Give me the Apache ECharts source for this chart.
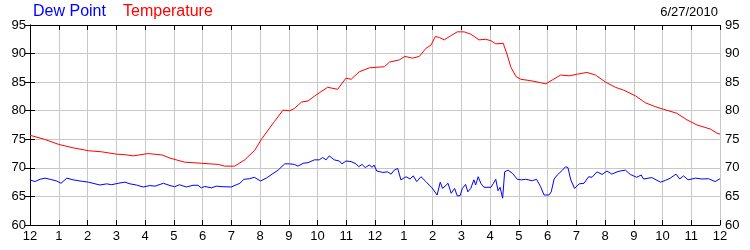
<!DOCTYPE html>
<html>
<head>
<meta charset="utf-8">
<script src="https://cdn.jsdelivr.net/npm/echarts@6/dist/echarts.min.js"></script>
<style>html,body{margin:0;padding:0;background:#fff;}#c{width:750px;height:250px;}</style>
</head>
<body>
<div id="c"></div>
<script>
var hourLabels = ['12','1','2','3','4','5','6','7','8','9','10','11','12','1','2','3','4','5','6','7','8','9','10','11','12'];
var yTicks = [60, 65, 70, 75, 80, 85, 90, 95];
var dateLabel = '6/27/2010';
var seriesNames = ['Dew Point', 'Temperature'];

var tempTimes = [0,0.5,1,1.5,2.03,2.5,3.01,3.3,3.6,4.1,4.6,4.87,5.38,5.97,6.55,6.77,7.12,7.47,7.82,8.05,8.5,8.8,9.03,9.2,9.44,9.67,9.95,10.35,10.7,10.99,11.17,11.45,11.8,12.33,12.5,12.85,13.04,13.3,13.54,13.77,13.95,14.1,14.24,14.41,14.63,14.86,15.1,15.33,15.62,15.85,16.03,16.2,16.46,16.6,16.72,16.9,17.07,17.42,17.76,17.94,18.17,18.46,18.75,19.04,19.37,19.67,20.02,20.36,20.65,21.06,21.4,21.75,22.04,22.5,22.85,23.2,23.66,23.9,24];
var tempValues = [75.7,75.0,74.1,73.5,73.0,72.8,72.4,72.3,72.1,72.5,72.25,71.7,71.0,70.8,70.6,70.3,70.3,71.4,73.1,75.0,78.1,80.1,80.0,80.4,81.5,81.7,82.75,84.1,83.75,85.7,85.5,86.8,87.5,87.7,88.5,88.9,89.5,89.2,89.5,90.9,91.5,93.0,92.8,92.4,93.1,93.8,93.8,93.4,92.4,92.5,92.25,91.7,91.8,89.75,87.7,86.0,85.5,85.25,84.9,84.7,85.4,86.25,86.1,86.4,86.7,86.25,85.0,84.1,83.6,82.6,81.4,80.7,80.25,79.55,78.4,77.5,76.8,76.05,75.9];

var dewTimes = [0,0.17,0.35,0.52,0.7,0.93,1.08,1.28,1.5,1.74,2.03,2.43,2.67,2.84,3.07,3.3,3.48,3.7,3.94,4.17,4.35,4.64,4.87,5.03,5.2,5.44,5.67,5.84,5.96,6.08,6.31,6.48,6.71,7.0,7.3,7.44,7.64,7.8,8.02,8.22,8.45,8.63,8.86,9.03,9.2,9.32,9.5,9.67,9.72,9.89,10.06,10.18,10.3,10.41,10.58,10.76,10.85,10.99,11.17,11.34,11.43,11.55,11.66,11.8,11.9,11.97,12.06,12.27,12.44,12.56,12.67,12.79,12.9,13.08,13.22,13.33,13.45,13.6,13.77,13.98,14.16,14.27,14.35,14.4,14.54,14.65,14.77,14.86,14.96,15.04,15.15,15.23,15.33,15.44,15.5,15.59,15.68,15.79,16.03,16.12,16.2,16.28,16.35,16.44,16.51,16.63,16.78,16.95,17.09,17.24,17.47,17.62,17.76,17.88,18.05,18.13,18.23,18.34,18.52,18.63,18.71,18.81,18.94,19.1,19.27,19.43,19.55,19.72,19.9,20.07,20.24,20.42,20.53,20.71,20.88,21.1,21.26,21.34,21.63,21.93,22.1,22.27,22.47,22.6,22.73,22.89,23.15,23.37,23.6,23.83,24];
var dewValues = [67.9,67.6,68.0,68.2,68.0,67.7,67.3,68.2,67.9,67.7,67.5,67.0,67.2,67.05,67.3,67.5,67.2,67.0,66.65,66.9,66.8,67.3,66.9,66.7,67.05,66.65,66.95,66.95,66.5,66.75,66.5,66.8,66.7,66.65,67.3,68.0,68.1,68.35,67.7,68.2,69.0,69.6,70.7,70.7,70.6,70.3,70.8,70.9,70.8,71.4,71.4,71.8,71.4,72.1,71.4,71.2,70.7,71.2,71.1,70.7,70.2,70.6,70.05,70.5,70.1,70.5,69.45,69.2,69.3,68.9,69.6,69.9,67.9,68.45,68.05,68.6,67.6,68.45,67.6,66.5,65.25,67.5,66.4,66.4,67.3,65.55,66.4,65.1,65.15,66.4,67.1,65.8,66.4,67.9,67.0,68.45,67.3,66.6,66.6,67.3,68.0,66.0,66.6,64.7,69.3,69.6,69.05,68.0,67.9,68.0,67.75,68.0,66.7,65.25,65.25,65.8,68.05,68.75,69.6,70.2,70.05,67.9,66.4,67.2,67.3,68.45,68.35,69.3,68.85,69.45,68.9,69.3,69.45,69.6,68.85,68.35,68.75,68.05,68.3,67.5,67.8,68.2,68.9,68.05,68.6,67.9,68.2,68.05,68.1,67.6,68.1];

function pairs(t, v) { return t.map(function (x, i) { return [x, v[i]]; }); }

var FONT = 'Liberation Sans, Arial, sans-serif';
var chart = echarts.init(document.getElementById('c'), null, { renderer: 'canvas' });

function yAxisCfg(pos) {
  return {
    type: 'value', position: pos, min: yTicks[0], max: yTicks[yTicks.length - 1], interval: 5,
    axisLine: { show: true, lineStyle: { color: '#000', width: 1 } },
    axisTick: { show: true, inside: true, length: 5, lineStyle: { color: '#000' } },
    axisLabel: { show: true, color: '#000', fontSize: 13, fontFamily: FONT, margin: pos === 'left' ? 4 : 5 },
    splitLine: { show: pos === 'left', lineStyle: { color: '#c8c8c8', width: 1 } }
  };
}

chart.setOption({
  animation: false,
  backgroundColor: '#fff',
  grid: { left: 30, right: 30, top: 25, bottom: 25, containLabel: false },
  title: [
    {
      left: 33, top: 4, padding: 0,
      text: seriesNames[0],
      textStyle: { color: '#0000ff', fontSize: 16, fontWeight: 'normal', fontFamily: FONT }
    },
    {
      left: 123, top: 4, padding: 0,
      text: seriesNames[1],
      textStyle: { color: '#ff0000', fontSize: 16, fontWeight: 'normal', fontFamily: FONT }
    },
    {
      right: 32, top: 6, padding: 0,
      text: dateLabel,
      textStyle: { color: '#000', fontSize: 13, fontWeight: 'normal', fontFamily: FONT }
    }
  ],
  xAxis: [
    {
      type: 'value', position: 'bottom', min: 0, max: 24, interval: 1,
      axisLine: { show: true, onZero: false, lineStyle: { color: '#000', width: 1 } },
      axisTick: { show: true, inside: true, length: 5, lineStyle: { color: '#000' } },
      axisLabel: { show: true, color: '#000', fontSize: 13, fontFamily: FONT, margin: 5,
        showMinLabel: true, showMaxLabel: true,
        formatter: function (v) { return hourLabels[Math.round(v)]; } },
      splitLine: { show: true, lineStyle: { color: '#c8c8c8', width: 1 } }
    },
    {
      type: 'value', position: 'top', min: 0, max: 24, interval: 1,
      axisLine: { show: true, onZero: false, lineStyle: { color: '#000', width: 1 } },
      axisTick: { show: true, inside: true, length: 5, lineStyle: { color: '#000' } },
      axisLabel: { show: false },
      splitLine: { show: false }
    }
  ],
  yAxis: [yAxisCfg('left'), yAxisCfg('right')],
  series: [
    {
      name: seriesNames[1], type: 'line', xAxisIndex: 0, yAxisIndex: 0,
      data: pairs(tempTimes, tempValues), showSymbol: false, symbol: 'none',
      lineStyle: { color: '#ff0000', width: 1 }, itemStyle: { color: '#ff0000' }
    },
    {
      name: seriesNames[0], type: 'line', xAxisIndex: 0, yAxisIndex: 0,
      data: pairs(dewTimes, dewValues), showSymbol: false, symbol: 'none',
      lineStyle: { color: '#0000ff', width: 1 }, itemStyle: { color: '#0000ff' }
    }
  ]
});
</script>
</body>
</html>
